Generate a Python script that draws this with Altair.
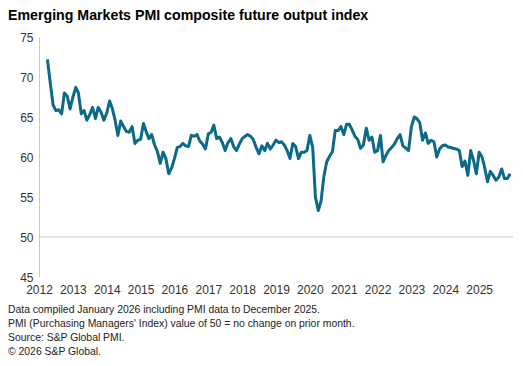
import altair as alt
import pandas as pd

start_year = 2012
start_month = 4  # April 2012

values = [
    # 2012 Apr-Dec
    72.2, 69.3, 66.5, 65.8, 65.9, 65.4, 68.0, 67.6, 66.0,
    # 2013
    67.5, 68.7, 68.0, 65.4, 65.8, 64.6, 65.3, 66.2, 64.8, 66.2, 65.6, 64.6,
    # 2014
    65.5, 67.0, 66.1, 64.6, 62.7, 64.5, 63.8, 63.2, 63.1, 63.8, 61.7, 62.1,
    # 2015
    62.2, 64.2, 63.2, 62.3, 62.8, 61.5, 60.7, 59.2, 60.6, 59.8, 57.9, 58.6,
    # 2016
    59.8, 61.2, 61.3, 61.7, 61.4, 61.3, 62.7, 62.6, 62.8, 62.0, 61.6, 61.0,
    # 2017
    62.9, 63.1, 64.0, 62.3, 62.5, 61.8, 60.8, 61.8, 62.3, 61.3, 60.8, 61.6,
    # 2018
    62.3, 62.6, 62.8, 62.6, 62.2, 61.2, 60.4, 61.4, 60.8, 61.7, 61.0, 61.5,
    # 2019
    62.1, 61.8, 61.9, 61.5, 60.8, 59.8, 61.7, 61.3, 59.8, 60.6, 60.6, 60.8,
    # 2020
    62.7, 61.2, 55.0, 53.3, 54.5, 57.6, 59.4, 60.1, 60.7, 63.3, 63.3, 63.8,
    # 2021
    62.8, 64.1, 64.1, 63.4, 62.6, 62.2, 61.1, 61.5, 63.6, 62.1, 62.5, 60.6,
    # 2022
    60.8, 62.7, 59.4, 60.2, 60.8, 61.2, 61.6, 62.3, 62.8, 61.4, 61.1, 60.8,
    # 2023
    63.8, 65.0, 64.8, 64.3, 62.1, 63.0, 61.7, 62.1, 61.9, 60.0, 61.0, 61.4,
    # 2024
    61.5, 61.25, 61.2, 61.05, 61.0, 60.8, 58.8, 59.5, 57.7, 60.8, 59.6, 57.9,
    # 2025
    60.6, 60.0, 58.7, 56.9, 58.2, 57.7, 57.1, 57.5, 58.5, 57.3, 57.3, 57.9,
]

dates = []
y, m = start_year, start_month
for _ in values:
    dates.append(f"{y:04d}-{m:02d}-01")
    m += 1
    if m > 12:
        m = 1
        y += 1

df = pd.DataFrame({"date": dates, "value": values})

year_ticks = list(range(2012, 2026))
y_ticks = [45, 50, 55, 60, 65, 70, 75]
footnotes = [
    "Data compiled January 2026 including PMI data to December 2025.",
    "PMI  (Purchasing Managers' Index) value of 50 = no change on prior month.",
    "Source: S&P Global PMI.",
    "\u00a9 2026 S&P Global.",
]

FONT = "Liberation Sans"

x_scale = alt.Scale(
    type="utc",
    domain=[alt.DateTime(year=2012, month=1, date=1, utc=True),
            alt.DateTime(year=2026, month=1, date=1, utc=True)],
)
y_scale = alt.Scale(domain=[45, 75], nice=False, zero=False)
y_axis = alt.Axis(values=y_ticks, title=None, grid=False,
                  ticks=False, domain=True, domainColor="#c8c8c8",
                  labelFont=FONT, labelFontSize=12, labelColor="#333333",
                  labelPadding=6, labelOverlap=False)

line = alt.Chart(df).mark_line(color="#0b6a86", strokeWidth=3, strokeJoin="round").encode(
    x=alt.X("date:T", scale=x_scale,
            axis=alt.Axis(values=[alt.DateTime(year=yy, month=1, date=1, utc=True) for yy in year_ticks],
                          format="%Y", title=None, domain=False, ticks=False, grid=False,
                          labelFont=FONT, labelFontSize=12, labelColor="#333333",
                          labelPadding=7, labelFlush=False, labelOverlap=False)),
    y=alt.Y("value:Q", scale=y_scale, axis=y_axis),
)

rule = alt.Chart(pd.DataFrame({"v": [50]})).mark_rule(color="#c8c8c8", strokeWidth=1.2).encode(
    y=alt.Y("v:Q", scale=y_scale, axis=y_axis)
)

foot = alt.Chart(pd.DataFrame({"t": ["\n".join(footnotes)]})).mark_text(
    align="left", baseline="middle", font=FONT, fontSize=10.4, color="#222222",
    lineBreak="\n", lineHeight=14,
).encode(x=alt.value(-31), y=alt.value(273), text="t:N")

chart = alt.layer(line, rule, foot).properties(
    width=474,
    height=240,
    autosize=alt.AutoSizeParams(type="none"),
    padding={"left": 31, "top": 29, "right": 2, "bottom": 81},
    title=alt.TitleParams(
        "Emerging Markets PMI composite future output index",
        anchor="start", frame="group", dx=-31, dy=-4,
        font=FONT, fontSize=14.2, fontWeight="bold", color="#000000",
    ),
).configure_view(stroke=None)

chart.save("out.html", embed_options={"renderer": "svg", "actions": False})
